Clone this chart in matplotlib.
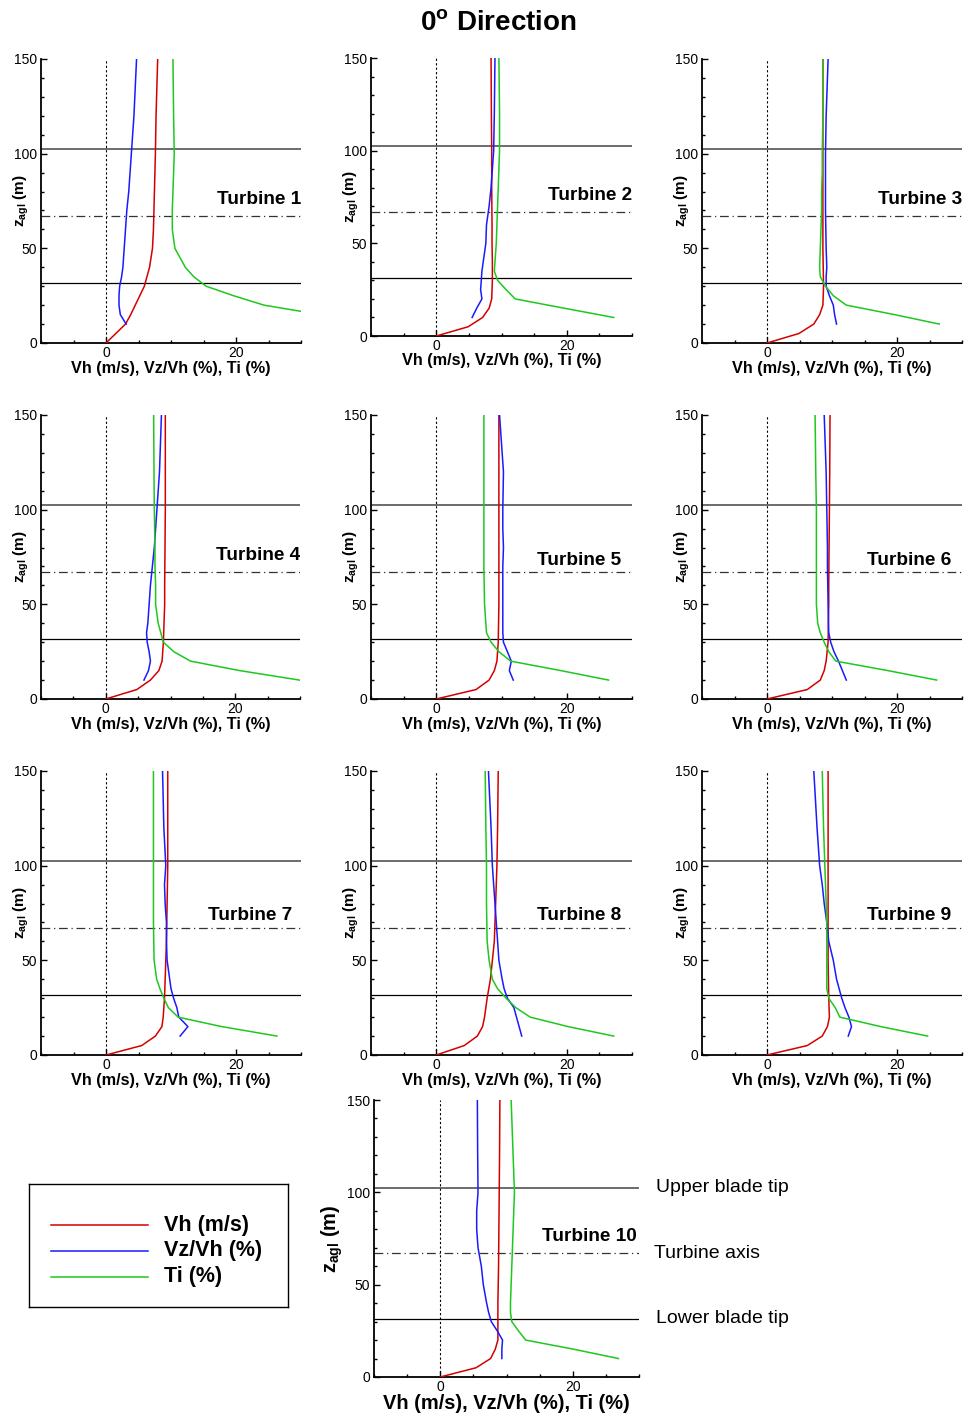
import matplotlib
matplotlib.use("Agg")
import matplotlib.pyplot as plt
from matplotlib.ticker import MultipleLocator, FixedLocator

plt.rcParams["font.family"] = ["Liberation Sans", "DejaVu Sans"]
plt.rcParams["mathtext.fontset"] = "custom"
plt.rcParams["mathtext.rm"] = "Liberation Sans:bold"
plt.rcParams["mathtext.it"] = "Liberation Sans:bold"
plt.rcParams["mathtext.bf"] = "Liberation Sans:bold"

# ---- data ----
TURBINES = ["Turbine 1", "Turbine 2", "Turbine 3", "Turbine 4", "Turbine 5",
            "Turbine 6", "Turbine 7", "Turbine 8", "Turbine 9", "Turbine 10"]

HUB_HEIGHT = 67.0
ROTOR_DIAMETER = 71.0

# heights (m) for Vh and for Vz/Vh, Ti
Z_VH = [0, 5, 10, 15, 20, 30, 40, 50, 60, 80, 100, 120, 150]
Z_PROF = [10, 15, 20, 25, 30, 35, 40, 50, 60, 70, 80, 90, 100, 120, 150]

VH = [
    [0, 1.5, 3.0, 3.8, 4.5, 5.9, 6.7, 7.15, 7.3, 7.45, 7.6, 7.7, 7.95],
    [0, 4.9, 7.1, 8.1, 8.5, 8.6, 8.6, 8.55, 8.55, 8.5, 8.5, 8.45, 8.4],
    [0, 4.9, 7.2, 8.1, 8.6, 8.7, 8.65, 8.6, 8.6, 8.6, 8.6, 8.6, 8.6],
    [0, 4.8, 6.9, 8.2, 8.7, 8.9, 9.0, 9.1, 9.1, 9.15, 9.2, 9.2, 9.2],
    [0, 6.1, 8.1, 8.9, 9.3, 9.5, 9.55, 9.6, 9.6, 9.6, 9.6, 9.6, 9.6],
    [0, 6.2, 8.2, 8.8, 9.1, 9.4, 9.45, 9.5, 9.5, 9.55, 9.6, 9.65, 9.7],
    [0, 5.5, 7.6, 8.6, 8.8, 9.0, 9.1, 9.2, 9.3, 9.4, 9.5, 9.5, 9.5],
    [0, 4.3, 6.3, 7.1, 7.4, 7.8, 8.3, 8.6, 8.9, 9.1, 9.3, 9.4, 9.5],
    [0, 6.2, 8.5, 9.3, 9.6, 9.5, 9.45, 9.4, 9.4, 9.4, 9.4, 9.4, 9.4],
    [0, 5.4, 7.6, 8.3, 8.7, 8.7, 8.7, 8.75, 8.8, 8.85, 8.9, 8.95, 9.0],
]

VZ = [
    [3.1, 2.2, 2.0, 2.0, 2.1, 2.4, 2.6, 2.8, 3.0, 3.2, 3.5, 3.7, 3.9, 4.3, 4.7],
    [5.5, 6.2, 7.0, 6.8, 6.9, 7.0, 7.2, 7.6, 7.7, 8.1, 8.4, 8.6, 8.8, 8.9, 9.0],
    [10.7, 10.4, 10.2, 9.6, 9.1, 9.1, 9.2, 9.1, 9.05, 9.0, 9.0, 9.0, 9.0, 9.1, 9.4],
    [5.9, 6.6, 6.9, 6.7, 6.4, 6.3, 6.5, 6.7, 6.9, 7.2, 7.5, 7.7, 7.9, 8.3, 8.6],
    [11.8, 11.2, 11.5, 10.9, 10.3, 10.2, 10.2, 10.2, 10.2, 10.2, 10.3, 10.2, 10.2, 10.3, 9.7],
    [12.2, 11.6, 11.0, 10.3, 9.8, 9.5, 9.45, 9.4, 9.35, 9.3, 9.3, 9.25, 9.2, 9.1, 8.8],
    [11.4, 12.6, 11.2, 10.9, 10.4, 10.0, 9.8, 9.4, 9.3, 9.3, 9.1, 9.0, 9.2, 8.9, 8.7],
    [13.1, 12.7, 12.3, 11.9, 10.9, 10.4, 10.1, 9.6, 9.4, 9.2, 9.0, 8.8, 8.6, 8.4, 8.0],
    [12.5, 13.0, 12.6, 12.0, 11.5, 11.1, 10.7, 10.2, 9.5, 9.2, 8.8, 8.5, 8.1, 7.7, 7.2],
    [9.3, 9.3, 9.4, 8.6, 7.7, 7.3, 7.0, 6.5, 6.2, 5.7, 5.5, 5.5, 5.7, 5.65, 5.6],
]

TI = [
    [42.0, 33.0, 24.3, 19.6, 15.4, 13.5, 12.2, 10.6, 10.2, 10.2, 10.3, 10.4, 10.5, 10.4, 10.3],
    [27.2, 19.6, 12.1, 10.7, 9.4, 8.9, 9.0, 9.2, 9.3, 9.4, 9.5, 9.6, 9.7, 9.7, 9.6],
    [26.5, 19.6, 12.2, 10.2, 9.0, 8.2, 8.1, 8.2, 8.3, 8.4, 8.4, 8.5, 8.5, 8.6, 8.6],
    [29.9, 20.7, 13.1, 10.5, 8.9, 8.5, 8.1, 7.7, 7.7, 7.6, 7.6, 7.55, 7.5, 7.45, 7.4],
    [26.4, 19.1, 11.4, 9.6, 8.4, 7.7, 7.6, 7.4, 7.35, 7.3, 7.3, 7.3, 7.3, 7.3, 7.3],
    [26.1, 18.6, 10.6, 9.5, 8.8, 8.2, 7.8, 7.6, 7.6, 7.6, 7.6, 7.6, 7.6, 7.5, 7.4],
    [26.3, 17.8, 11.1, 9.6, 8.9, 8.3, 7.8, 7.4, 7.35, 7.3, 7.3, 7.3, 7.3, 7.3, 7.3],
    [27.2, 20.2, 14.4, 12.2, 10.7, 9.4, 8.6, 8.1, 7.8, 7.75, 7.7, 7.7, 7.7, 7.6, 7.5],
    [24.7, 17.5, 11.2, 10.5, 9.5, 9.2, 9.2, 9.2, 9.2, 9.2, 9.1, 9.0, 8.9, 8.7, 8.5],
    [26.9, 20.2, 12.9, 11.8, 10.8, 10.6, 10.6, 10.7, 10.8, 10.9, 11.0, 11.1, 11.2, 11.0, 10.7],
]

SERIES_LABELS = ["Vh (m/s)", "Vz/Vh (%)", "Ti (%)"]

# ---- layout ----
W, H = 966, 1414
red, blue, green = "#d40000", "#1a1aff", "#1ec81e"

# axes boxes in pixels: left, right, top, bottom
boxes = [
    (41, 301, 59, 343), (371, 632, 58, 336), (702, 962, 59, 343),
    (41, 300, 415, 699), (371, 632, 415, 699), (702, 962, 415, 699),
    (41, 301, 771, 1055), (371, 632, 771, 1055), (702, 962, 771, 1055),
    (374, 639, 1100, 1377),
]
# where each "Turbine N" tag sits (right edge x, z)
tag_pos = [(30, 76), (30, 76), (30, 76), (30, 75.7), (28.4, 73),
           (28.3, 73), (28.6, 73.8), (28.4, 73.8), (28.3, 73.8), (29.7, 76)]

fig = plt.figure(figsize=(W / 100, H / 100), dpi=100)

fig.text(498 / W, 1 - 23 / H, r"0$^{\rm o}$ Direction", ha="center", va="center",
         fontsize=20, fontweight="bold")

z_upper = HUB_HEIGHT + ROTOR_DIAMETER / 2
z_lower = HUB_HEIGHT - ROTOR_DIAMETER / 2

for i, (l, r, t, b) in enumerate(boxes):
    ax = fig.add_axes([l / W, 1 - b / H, (r - l) / W, (b - t) / H])
    big = i == 9

    ax.plot(VH[i], Z_VH, color=red, lw=1.1, zorder=4)
    ax.plot(VZ[i], Z_PROF, color=blue, lw=1.1, zorder=4)
    ax.plot(TI[i], Z_PROF, color=green, lw=1.1, zorder=4)

    ax.axvline(0, color="black", lw=0.8, linestyle=(0, (2, 2)), zorder=2)
    ax.axhline(z_upper, color="#444444", lw=1.1, zorder=2)
    ax.axhline(HUB_HEIGHT, color="#333333", lw=0.9, linestyle=(0, (7, 3, 1, 3)), zorder=2)
    ax.axhline(z_lower, color="black", lw=0.9, zorder=2)

    ax.set_xlim(-10, 30)
    ax.set_ylim(0, 150)
    ax.xaxis.set_major_locator(FixedLocator([0, 20]))
    ax.xaxis.set_minor_locator(MultipleLocator(5))
    ax.yaxis.set_major_locator(MultipleLocator(50))
    ax.yaxis.set_minor_locator(MultipleLocator(10))
    ax.tick_params(which="both", direction="in", top=False, right=False,
                   labelsize=10, width=1.0)
    ax.tick_params(which="major", length=4.5)
    ax.tick_params(which="minor", length=2.5)
    ax.tick_params(axis="x", pad=2)
    ax.tick_params(axis="y", pad=3)

    for side in ("top", "right"):
        ax.spines[side].set_visible(False)
    for side in ("left", "bottom"):
        ax.spines[side].set_linewidth(1.3)

    tx, tz = tag_pos[i]
    ax.text(tx, tz, TURBINES[i], ha="right", va="center", fontsize=13.7,
            fontweight="bold", zorder=5)

    xfs = 14.4 if big else 11.7
    yfs = 14.4 if big else 11
    ax.set_xlabel("Vh (m/s), Vz/Vh (%), Ti (%)", fontsize=xfs, fontweight="bold",
                  va="center")
    ax.set_ylabel(r"$z_{agl}$ (m)", fontsize=yfs, fontweight="bold", va="center")
    xoff = 26.5 if big else 25
    yoff = 42 if big else 19.5
    ax.xaxis.set_label_coords(0.5, -xoff / (b - t))
    ax.yaxis.set_label_coords(-yoff / (r - l), 0.5)

    if big:
        for z, txt, x0 in ((z_upper, "Upper blade tip", 32.6),
                           (HUB_HEIGHT, "Turbine axis", 32.3),
                           (z_lower, "Lower blade tip", 32.6)):
            ax.text(x0, z, txt, ha="left", va="center", fontsize=14, clip_on=False)

# ---- legend box ----
lax = fig.add_axes([29.3 / W, 1 - 1307.3 / H, 258.4 / W, 123.3 / H])
lax.set_xlim(0, 1)
lax.set_ylim(0, 1)
lax.set_xticks([])
lax.set_yticks([])
for s in lax.spines.values():
    s.set_linewidth(1.0)
for color, label, y in zip((red, blue, green), SERIES_LABELS, (0.665, 0.459, 0.248)):
    lax.plot([0.084, 0.458], [y, y], color=color, lw=1.1)
    lax.text(0.522, y, label, ha="left", va="center", fontsize=15.5, fontweight="bold")

fig.savefig("out.png", dpi=100)
